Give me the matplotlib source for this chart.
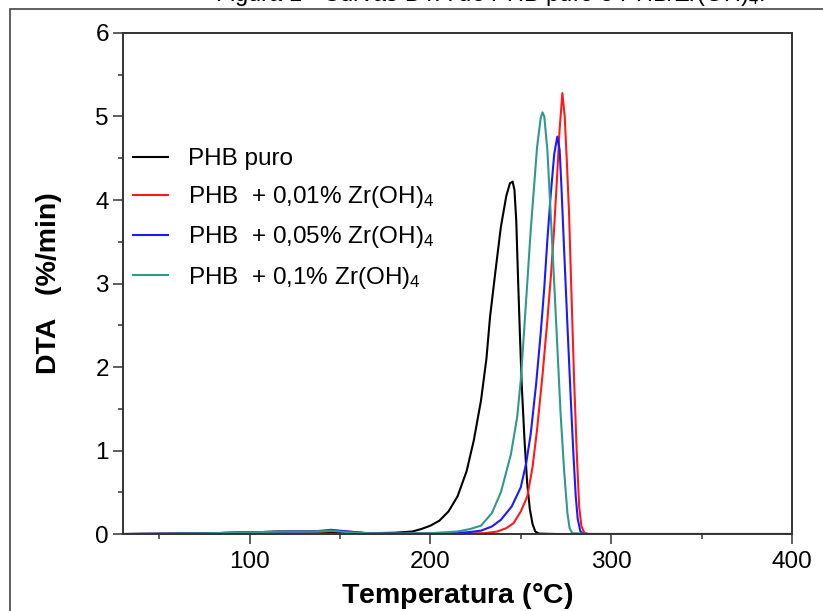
import matplotlib
matplotlib.use("Agg")
import matplotlib.pyplot as plt
from matplotlib.patches import Rectangle
from matplotlib.ticker import MultipleLocator

plt.rcParams["font.family"] = ["Liberation Sans", "DejaVu Sans"]
plt.rcParams["mathtext.fontset"] = "custom"
plt.rcParams["mathtext.rm"] = "Liberation Sans"
plt.rcParams["mathtext.it"] = "Liberation Sans"
plt.rcParams["mathtext.bf"] = "Liberation Sans:bold"

# temperatura (C) e DTA (%/min)
t_puro = [30, 60, 80, 100, 120, 135, 150, 165, 180, 190, 195, 200, 205, 210, 215, 220, 224,
          228, 231, 233, 236, 239, 242, 244, 245.5, 246.5, 247.5, 248.5, 249.5, 250.5, 252,
          253.5, 255, 256.5, 258, 260, 270, 300, 400]
d_puro = [0, 0.005, 0.01, 0.02, 0.03, 0.03, 0.02, 0.01, 0.015, 0.03, 0.06, 0.1, 0.16, 0.27,
          0.45, 0.75, 1.12, 1.6, 2.1, 2.6, 3.15, 3.68, 4.05, 4.2, 4.22, 4.12, 3.75, 3.05, 2.4,
          1.8, 1.15, 0.62, 0.3, 0.12, 0.03, 0.005, 0, 0, 0]

t_001 = [30, 60, 80, 100, 120, 135, 150, 165, 180, 200, 230, 237, 242, 246, 250, 253.6, 256.5,
         259, 262, 264.7, 266.7, 268.4, 270, 271.5, 273, 274.3, 275.5, 276.7, 278, 279.5, 281,
         282.3, 283.5, 285, 287, 300, 400]
d_001 = [0, 0.005, 0.01, 0.02, 0.03, 0.03, 0.035, 0.01, 0.005, 0.005, 0.01, 0.03, 0.07, 0.13,
         0.27, 0.45, 0.8, 1.25, 1.9, 2.56, 3.1, 3.64, 4.25, 4.85, 5.28, 5.0, 4.45, 3.84, 2.9,
         1.84, 0.95, 0.33, 0.1, 0.02, 0, 0, 0]

t_005 = [30, 60, 80, 100, 120, 135, 145, 155, 165, 180, 200, 220, 228, 234, 239, 245, 250, 253,
         255.5, 258.5, 261, 263, 264.7, 266.5, 268.5, 270.2, 271.5, 272.5, 273.9, 275.8, 277.6,
         279, 280.4, 281.5, 283, 285, 300, 400]
d_005 = [0, 0.005, 0.01, 0.02, 0.03, 0.03, 0.05, 0.03, 0.01, 0.005, 0.005, 0.02, 0.04, 0.09,
         0.17, 0.33, 0.56, 0.85, 1.2, 1.8, 2.4, 2.95, 3.52, 4.05, 4.55, 4.76, 4.6, 4.15, 3.44,
         2.5, 1.64, 1.0, 0.45, 0.18, 0.03, 0, 0, 0]

t_01 = [30, 60, 80, 100, 120, 135, 145, 155, 165, 180, 200, 215, 222, 228, 234, 239, 244.5,
        248, 250, 252.5, 255.5, 259, 261, 262, 263, 264.7, 266.5, 268.4, 270.2, 272, 274,
        275.8, 277, 278.5, 290, 400]
d_01 = [0, 0.005, 0.01, 0.02, 0.03, 0.03, 0.04, 0.02, 0.01, 0.005, 0.01, 0.03, 0.06, 0.1, 0.25,
        0.5, 0.95, 1.4, 1.84, 2.65, 3.64, 4.63, 4.98, 5.05, 5.0, 4.6, 3.85, 3.04, 2.25, 1.45,
        0.75, 0.25, 0.07, 0.01, 0, 0]

rotulos = ["PHB puro", "PHB  + 0,01% Zr(OH)$_4$", "PHB  + 0,05% Zr(OH)$_4$", "PHB  + 0,1% Zr(OH)$_4$"]
cores = ["black", "#ff1a1a", "#1a1aff", "#2f9a8c"]

fig = plt.figure(figsize=(8.23, 6.11), dpi=100)
ax = fig.add_axes([0.1495, 0.126, 0.8128, 0.82])

for t, d, lab, c in zip([t_puro, t_001, t_005, t_01], [d_puro, d_001, d_005, d_01], rotulos, cores):
    ax.plot(t, d, color=c, lw=1.5, label=lab)

ax.set_xlim(30, 400)
ax.set_ylim(0, 6)
ax.xaxis.set_major_locator(MultipleLocator(100))
ax.xaxis.set_minor_locator(MultipleLocator(50))
ax.yaxis.set_major_locator(MultipleLocator(1))
ax.yaxis.set_minor_locator(MultipleLocator(0.5))
ax.tick_params(which="both", direction="out", width=1.1, color="#333333", labelsize=17.5,
               top=False, right=False)
ax.tick_params(axis="x", which="major", length=7.2, pad=5)
ax.tick_params(axis="y", which="major", length=7.2, pad=3)
ax.tick_params(which="minor", length=3.6)
for s in ax.spines.values():
    s.set_linewidth(1.4)
    s.set_color("#333333")

ax.set_xlabel(r"Temperatura $\mathbf{(°C)}$", fontsize=20.5, fontweight="bold", labelpad=6)
ax.set_ylabel("DTA   (%/min)", fontsize=20.5, fontweight="bold", labelpad=24)

ax.legend(loc="upper left", bbox_to_anchor=(0.015, 0.77), frameon=False, fontsize=17.5,
          handlelength=1.45, handletextpad=0.8, labelspacing=0.58, borderpad=0, borderaxespad=0)

# moldura externa e titulo cortado no topo
fig.patches.append(Rectangle((10 / 823, -0.05), 1.1, 1 - 9 / 611 + 0.05, transform=fig.transFigure,
                             fill=False, edgecolor="#444444", lw=1.2))
fig.text(490 / 823, 1 - 1.5 / 611, "Figura 1 - Curvas DTA do PHB puro e PHB/Zr(OH)$_4$.",
         ha="center", va="baseline", fontsize=17)

fig.savefig("out.png", dpi=100)
